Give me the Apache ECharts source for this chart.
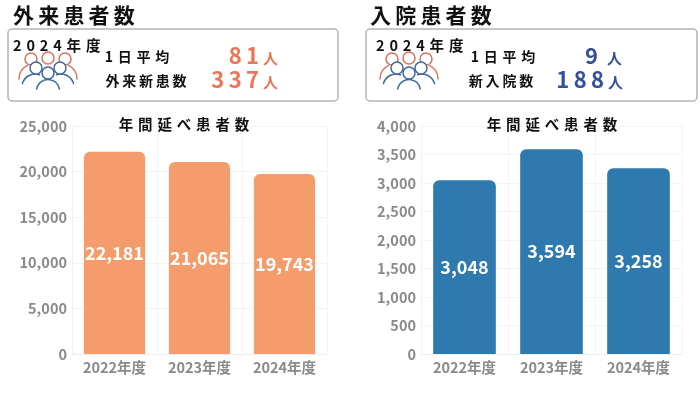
<!DOCTYPE html>
<html>
<head>
<meta charset="utf-8">
<style>
  html, body { margin: 0; padding: 0; background: #fff; }
  #main { width: 700px; height: 393px; }
</style>
<script src="https://cdn.jsdelivr.net/npm/echarts@6/dist/echarts.min.js"></script>
</head>
<body>
<div id="main"></div>
<script>
var years = ['2022年度', '2023年度', '2024年度'];
var outpatientValues = [22181, 21065, 19743];
var inpatientValues = [3048, 3594, 3258];

var outpatientTitle = '外来患者数';
var inpatientTitle = '入院患者数';
var chartTitle = '年間延べ患者数';
var panelYear = '2024年度';
var dailyLabel = '1日平均';
var outpatientNewLabel = '外来新患数';
var inpatientNewLabel = '新入院数';
var outpatientStats = ['81', '337'];
var inpatientStats = ['9', '188'];
var unit = '人';

var FONT = '"Noto Sans CJK JP", "Noto Sans", sans-serif';
var ORANGE = '#F49C6B';
var BLUE = '#2E79AE';
var RED_TEXT = '#EC7458';
var NAVY_TEXT = '#33509B';
var ICON_RED = '#D9745A';
var ICON_BLUE = '#42699B';
var AXIS_TEXT = '#8A8A8A';

var THIN = '\u2009';
var WIDE = '\u2004';

// zrender has no letter spacing, thin spaces do the job
function spaced(s, gap) {
  return s.split('').join(gap || THIN);
}

function text(x, y, s, size, color, align) {
  return {
    type: 'text',
    x: x,
    y: y,
    style: {
      text: s,
      font: 'bold ' + size + 'px ' + FONT,
      fill: color,
      align: align || 'left',
      verticalAlign: 'middle'
    }
  };
}

function head(x, y, r, color) {
  return {
    type: 'circle',
    shape: { cx: x, cy: y, r: r },
    style: { fill: '#fff', stroke: color, lineWidth: 1.5 }
  };
}

// angles in degrees, canvas direction
function shoulder(x, y, r, from, to, color) {
  return {
    type: 'arc',
    shape: { cx: x, cy: y, r: r, startAngle: from * Math.PI / 180, endAngle: to * Math.PI / 180 },
    style: { fill: 'none', stroke: color, lineWidth: 1.5, lineCap: 'round' }
  };
}

function peopleIcon(ox, oy) {
  return [
    shoulder(ox - 14, oy + 20, 15, 180, 245, ICON_RED),
    shoulder(ox + 14, oy + 20, 15, 295, 360, ICON_RED),
    head(ox - 17, oy, 6, ICON_RED),
    head(ox, oy - 1, 6, ICON_RED),
    head(ox + 17, oy, 6, ICON_RED),
    shoulder(ox - 13, oy + 28, 13, 195, 290, ICON_BLUE),
    shoulder(ox + 13, oy + 28, 13, 250, 345, ICON_BLUE),
    head(ox - 12, oy + 9, 6, ICON_BLUE),
    head(ox + 12, oy + 9, 6, ICON_BLUE),
    head(ox, oy + 14, 6, ICON_BLUE),
    shoulder(ox, oy + 32, 11.5, 190, 350, ICON_BLUE)
  ];
}

function panel(opt) {
  var items = [
    {
      type: 'rect',
      shape: { x: opt.x, y: 29, width: opt.w, height: 72, r: 4 },
      style: { fill: '#fff', stroke: '#B4B4B4', lineWidth: 1.5 }
    },
    text(opt.yearX, 45, spaced(panelYear, WIDE), 14.5, '#111'),
    text(opt.labelX[0], 57, spaced(dailyLabel, WIDE), 14, '#111', 'center'),
    text(opt.labelX[1], 81, spaced(opt.newLabel), 14, '#111', 'center'),
    text(opt.numX[0], 56, spaced(opt.stats[0]), 22, opt.color, 'right'),
    text(opt.numX[1], 80, spaced(opt.stats[1]), 22, opt.color, 'right'),
    text(opt.unitX[0], 58, unit, 15, opt.color),
    text(opt.unitX[1], 82, unit, 15, opt.color)
  ];
  return items.concat(peopleIcon(opt.iconX, opt.iconY));
}

function grid(left, right) {
  return { left: left, right: right, top: 126, bottom: 39 };
}

function xAxis(idx) {
  return {
    type: 'category',
    gridIndex: idx,
    data: years,
    axisTick: { show: false },
    axisLine: { lineStyle: { color: '#EEEEEE' } },
    splitLine: { show: true, lineStyle: { color: '#F4F4F4' } },
    axisLabel: { interval: 0, color: AXIS_TEXT, fontFamily: FONT, fontSize: 14.5, fontWeight: 'bold', margin: 6 }
  };
}

function yAxis(idx, max, interval) {
  return {
    type: 'value',
    gridIndex: idx,
    min: 0,
    max: max,
    interval: interval,
    axisLine: { show: true, lineStyle: { color: '#F0F0F0' } },
    axisTick: { show: false },
    splitLine: { lineStyle: { color: '#F4F4F4' } },
    axisLabel: {
      color: AXIS_TEXT,
      fontFamily: FONT,
      fontSize: 14.5,
      fontWeight: 'bold',
      margin: 5,
      formatter: function (v) { return v.toLocaleString('en-US'); }
    }
  };
}

function bars(idx, data, color) {
  return {
    type: 'bar',
    xAxisIndex: idx,
    yAxisIndex: idx,
    data: data,
    barWidth: '72%',
    itemStyle: { color: color, borderRadius: [6, 6, 0, 0] },
    label: {
      show: true,
      position: 'inside',
      color: '#fff',
      fontFamily: FONT,
      fontSize: 18,
      fontWeight: 'bold',
      formatter: function (p) { return p.value.toLocaleString('en-US'); }
    }
  };
}

function chartHeading(s, x) {
  return {
    text: spaced(s, WIDE),
    left: x,
    top: 112,
    textAlign: 'center',
    textStyle: { fontFamily: FONT, fontSize: 14.5, fontWeight: 'bold', color: '#111' }
  };
}

function mainHeading(s, x) {
  return {
    text: spaced(s),
    left: x,
    top: 0,
    textStyle: { fontFamily: FONT, fontSize: 21, fontWeight: 'bold', color: '#111' }
  };
}

var myChart = echarts.init(document.getElementById('main'));

var option = {
  backgroundColor: '#fff',
  animation: false,
  title: [
    mainHeading(outpatientTitle, 8),
    mainHeading(inpatientTitle, 365),
    chartHeading(chartTitle, 179),
    chartHeading(chartTitle, 547)
  ],
  grid: [grid(72, 373), grid(421, 18)],
  xAxis: [xAxis(0), xAxis(1)],
  yAxis: [yAxis(0, 25000, 5000), yAxis(1, 4000, 500)],
  series: [bars(0, outpatientValues, ORANGE), bars(1, inpatientValues, BLUE)],
  graphic: panel({
    x: 8, w: 330, yearX: 13, labelX: [137, 146], newLabel: outpatientNewLabel,
    numX: [259, 259], unitX: [263, 263], stats: outpatientStats, color: RED_TEXT,
    iconX: 48, iconY: 59
  }).concat(panel({
    x: 366, w: 331, yearX: 376, labelX: [503, 501], newLabel: inpatientNewLabel,
    numX: [598, 604], unitX: [607, 608], stats: inpatientStats, color: NAVY_TEXT,
    iconX: 409, iconY: 59
  }))
};

myChart.setOption(option);
</script>
</body>
</html>
